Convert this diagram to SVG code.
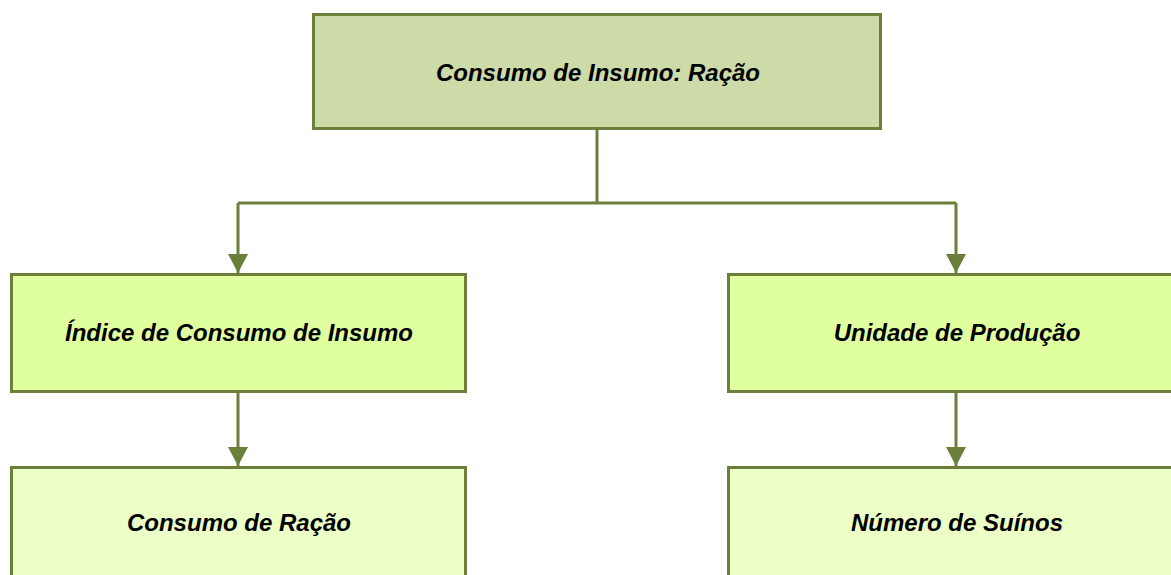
<svg xmlns="http://www.w3.org/2000/svg" width="1171" height="575" viewBox="0 0 1171 575">
<style>
.box{stroke:#6b7f3a;stroke-width:3}
.l0{fill:#cddba8}
.l1{fill:#e0ff9f}
.l2{fill:#ebffc6}
.lbl{font-family:"Liberation Sans",Arial,sans-serif;font-size:24px;font-weight:bold;font-style:italic;fill:#000;text-anchor:middle}
.conn{fill:none;stroke:#6b7f3a;stroke-width:3}
</style>
<defs>
<marker id="arr" markerUnits="userSpaceOnUse" markerWidth="20" markerHeight="20" refX="19" refY="10" orient="auto">
<path d="M0,0 L19,10 L0,20 Z" fill="#6b7f3a"/>
</marker>
</defs>
<rect width="1171" height="575" fill="#fff"/>
<g id="connectors">
<path class="conn" d="M597,129 V203"/>
<path class="conn" d="M238,203 H956"/>
<path class="conn" d="M238,203 V273" marker-end="url(#arr)"/>
<path class="conn" d="M956,203 V273" marker-end="url(#arr)"/>
<path class="conn" d="M238,392 V466" marker-end="url(#arr)"/>
<path class="conn" d="M956,392 V466" marker-end="url(#arr)"/>
</g>
<g id="n-root">
<rect class="box l0" x="313.5" y="14.5" width="567" height="114"/>
<text class="lbl" x="598" y="81">Consumo de Insumo: Ração</text>
</g>
<g id="n-indice">
<rect class="box l1" x="11.5" y="274.5" width="454" height="117"/>
<text class="lbl" x="239" y="341">Índice de Consumo de Insumo</text>
</g>
<g id="n-unidade">
<rect class="box l1" x="728.5" y="274.5" width="455" height="117"/>
<text class="lbl" x="957" y="341">Unidade de Produção</text>
</g>
<g id="n-racao">
<rect class="box l2" x="11.5" y="467.5" width="454" height="117"/>
<text class="lbl" x="239" y="531">Consumo de Ração</text>
</g>
<g id="n-suinos">
<rect class="box l2" x="728.5" y="467.5" width="455" height="117"/>
<text class="lbl" x="957" y="531">Número de Suínos</text>
</g>
</svg>
